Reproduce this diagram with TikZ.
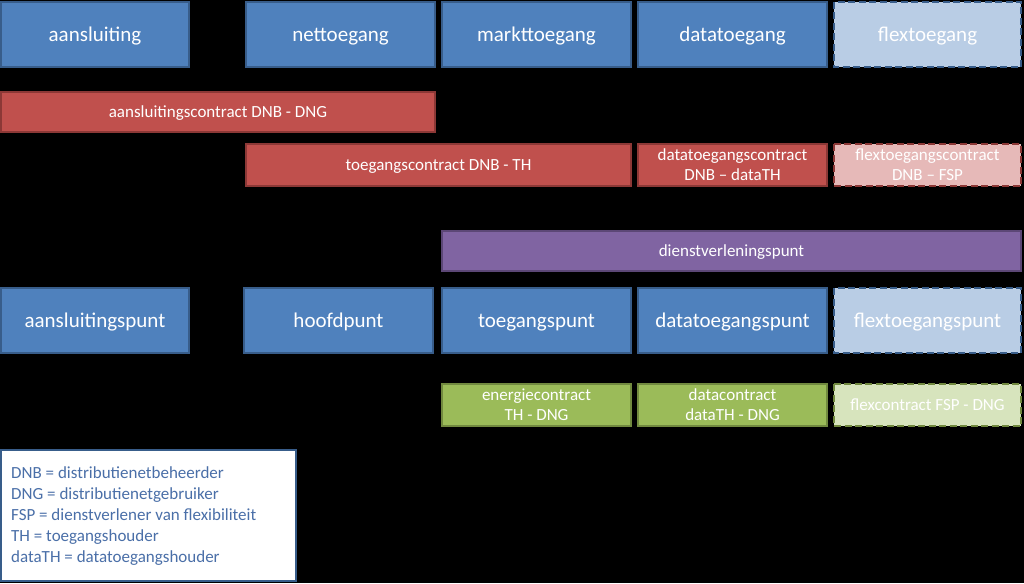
\documentclass[tikz,border=0pt]{standalone}
\usepackage{fontspec}
\setmainfont{Carlito}
\definecolor{bfill}{HTML}{4F81BD}
\definecolor{bdraw}{HTML}{385D8A}
\definecolor{rfill}{HTML}{C0504D}
\definecolor{rdraw}{HTML}{8C3836}
\definecolor{lrfill}{HTML}{E6B9B8}
\definecolor{lbfill}{HTML}{B9CDE5}
\definecolor{pfill}{HTML}{8064A2}
\definecolor{pdraw}{HTML}{5C4776}
\definecolor{gfill}{HTML}{9BBB59}
\definecolor{gdraw}{HTML}{71893F}
\definecolor{lgfill}{HTML}{D7E4BD}
\definecolor{legtext}{HTML}{4A6FA8}
\begin{document}
\begin{tikzpicture}[x=1pt,y=-1pt,
  box/.style={line width=1.2pt,text=white,align=center,inner sep=0pt},
  dsh/.style={dash pattern=on 7pt off 3.5pt},
  big/.style={font=\fontsize{21}{23}\selectfont,text height=14pt,text depth=0pt},
  small/.style={font=\fontsize{17}{20}\selectfont},
  one/.style={text height=11.5pt,text depth=1pt},
  bluebox/.style={box,fill=bfill,draw=bdraw,big},
  lbluebox/.style={box,fill=lbfill,draw=bdraw,dsh,big},
  redbox/.style={box,fill=rfill,draw=rdraw,small},
  lredbox/.style={box,fill=lrfill,draw=rdraw,dsh,small},
  purplebox/.style={box,fill=pfill,draw=pdraw,small},
  greenbox/.style={box,fill=gfill,draw=gdraw,small},
  lgreenbox/.style={box,fill=lgfill,draw=gdraw,dsh,small}]
\fill[black] (0,0) rectangle (1024,583);
\useasboundingbox (0,0) rectangle (1024,583);
% row 1
\draw[bluebox] (1,2) rectangle (189,67) node[midway] (a1) {aansluiting};
\draw[bluebox] (246,2) rectangle (435,67) node[midway] (a2) {nettoegang};
\draw[bluebox] (442,2) rectangle (631,67) node[midway] (a3) {markttoegang};
\draw[bluebox] (638,2) rectangle (827,67) node[midway] (a4) {datatoegang};
\draw[lbluebox] (834,2) rectangle (1021,67) node[midway] (a5) {flextoegang};
% contracts
\draw[redbox] (1,92) rectangle (435,132) node[midway,one] (c1) {aansluitingscontract DNB - DNG};
\draw[redbox] (246,144) rectangle (631,186) node[midway,one] (c2) {toegangscontract DNB - TH};
\draw[redbox] (638,144) rectangle (827,186) node[midway] (c3) {datatoegangscontract\\DNB -- dataTH};
\draw[lredbox] (834,144) rectangle (1021,186) node[midway] (c4) {flextoegangscontract\\DNB -- FSP};
% dienstverleningspunt
\draw[purplebox] (442,231) rectangle (1021,271) node[midway,one] (d1) {dienstverleningspunt};
% points
\draw[bluebox] (1,288) rectangle (189,353) node[midway] (p1) {aansluitingspunt};
\draw[bluebox] (244,288) rectangle (433,353) node[midway] (p2) {hoofdpunt};
\draw[bluebox] (442,288) rectangle (631,353) node[midway] (p3) {toegangspunt};
\draw[bluebox] (638,288) rectangle (827,353) node[midway] (p4) {datatoegangspunt};
\draw[lbluebox] (834,288) rectangle (1021,353) node[midway] (p5) {flextoegangspunt};
% green contracts
\draw[greenbox] (442,384) rectangle (631,426) node[midway] (g1) {energiecontract\\TH - DNG};
\draw[greenbox] (638,384) rectangle (827,426) node[midway] (g2) {datacontract\\dataTH - DNG};
\draw[lgreenbox] (834,384) rectangle (1021,426) node[midway,one] (g3) {flexcontract FSP - DNG};
% legend
\draw[fill=white,draw=bdraw,line width=1.2pt] (1,450) rectangle (296,581);
\node[anchor=north west,align=left,text=legtext,font=\fontsize{17}{21}\selectfont,inner sep=0pt] (leg) at (11,466)
{DNB = distributienetbeheerder\\DNG = distributienetgebruiker\\FSP = dienstverlener van flexibiliteit\\TH = toegangshouder\\dataTH = datatoegangshouder};
\end{tikzpicture}
\end{document}
